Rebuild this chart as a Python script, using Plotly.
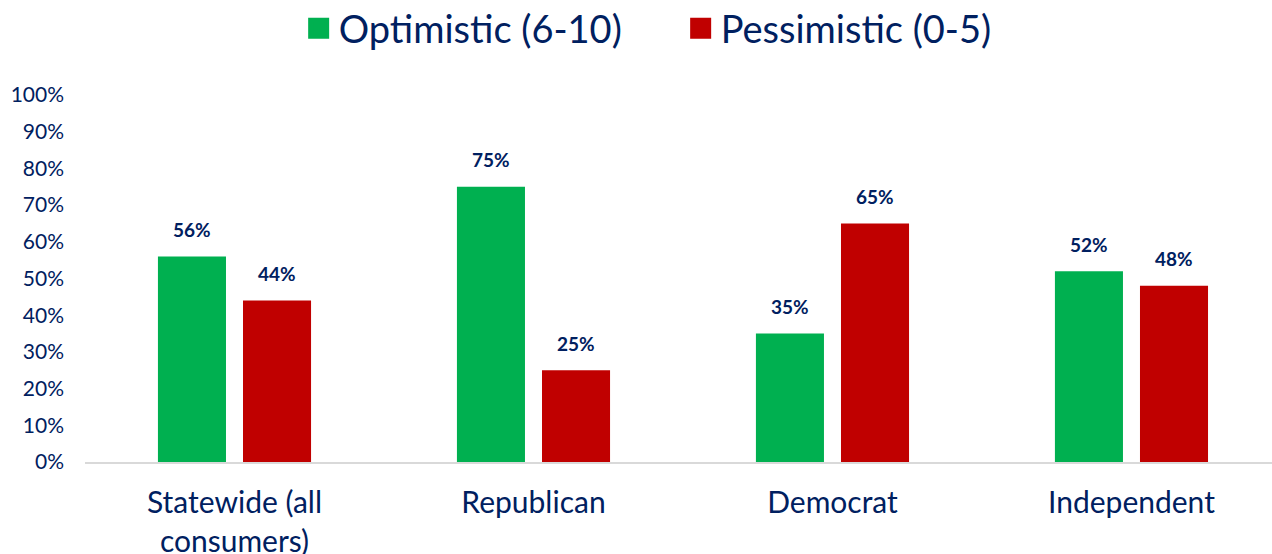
import plotly.graph_objects as go

categories = ["Statewide (all<br>consumers)", "Republican", "Democrat", "Independent"]
optimistic = [0.56, 0.75, 0.35, 0.52]
pessimistic = [0.44, 0.25, 0.65, 0.48]
series_names = ["Optimistic (6-10)", "Pessimistic (0-5)"]
y_ticks = [0, 0.1, 0.2, 0.3, 0.4, 0.5, 0.6, 0.7, 0.8, 0.9, 1.0]

GREEN = "#00B050"
RED = "#C00000"
NAVY = "#002060"
FONT = "Lato"

fig = go.Figure()
for name, vals, color in [(series_names[0], optimistic, GREEN), (series_names[1], pessimistic, RED)]:
    fig.add_trace(go.Bar(x=categories, y=vals, name=name, legendgroup=name, showlegend=False,
                         marker=dict(color=color, line=dict(width=0))))
    fig.add_trace(go.Scatter(x=[None], y=[None], mode="markers", name=name, legendgroup=name,
                             marker=dict(symbol="square", size=26, color=color,
                                         line=dict(width=5, color=color))))

for vals, shift in [(optimistic, -42.5), (pessimistic, 42.5)]:
    for c, v in zip(categories, vals):
        fig.add_annotation(x=c, y=v, text=f"<b>{round(v*100)}%</b>", showarrow=False,
                           xshift=shift, yshift=27, xanchor="center", yanchor="middle",
                           font=dict(family=FONT, size=19, color=NAVY))

fig.update_layout(
    width=1272, height=554,
    margin=dict(l=85, r=0, t=95, b=92, autoexpand=False),
    paper_bgcolor="white", plot_bgcolor="white",
    barmode="group", bargap=0.431, bargroupgap=0.2,
    font=dict(family=FONT, color=NAVY),
    legend=dict(orientation="h", x=0.180, xanchor="left", y=1.267, yref="paper",
                yanchor="top", font=dict(family=FONT, size=38, color=NAVY),
                itemsizing="trace", itemwidth=30, traceorder="normal",
                entrywidth=337, entrywidthmode="pixels"),
    showlegend=True,
)
fig.update_xaxes(range=[-0.5, 3.47], showgrid=False, showline=True, linecolor="#D9D9D9",
                 linewidth=2, tickfont=dict(family=FONT, size=30, color=NAVY),
                 ticklabelstandoff=13, ticks="", automargin=False)
fig.update_yaxes(range=[0, 1], tickvals=y_ticks, tickformat=".0%", showgrid=False,
                 zeroline=False, showline=False, automargin=False,
                 tickfont=dict(family=FONT, size=21, color=NAVY), ticklabelstandoff=20)

fig.write_html("out.html")
